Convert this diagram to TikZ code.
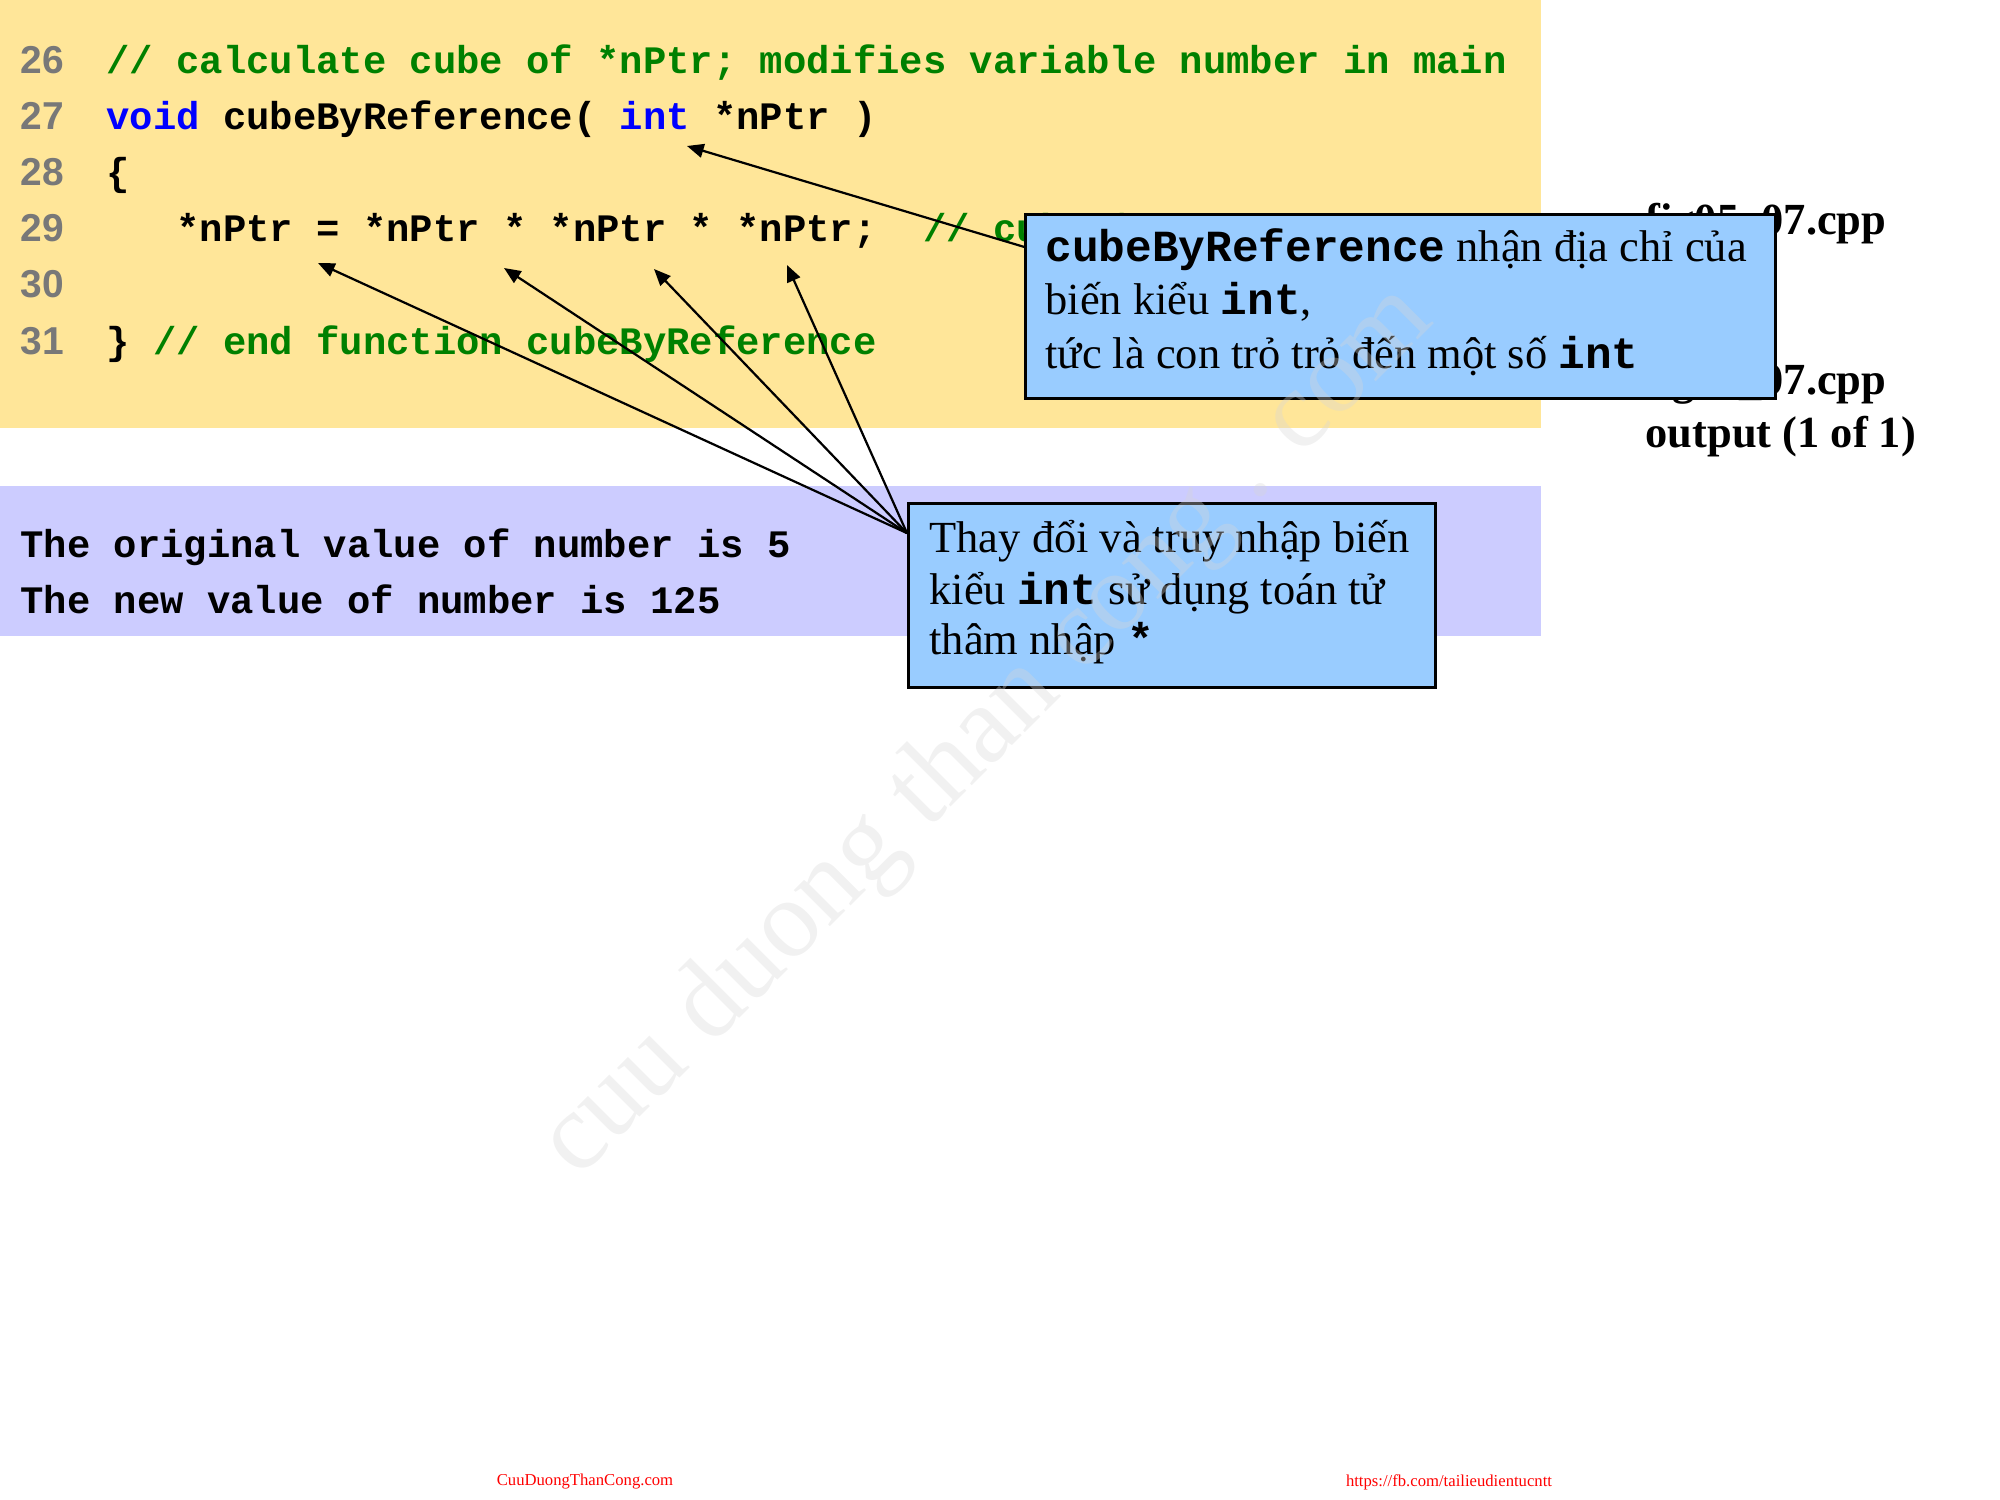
\documentclass[tikz,border=0pt]{standalone}
\usepackage{fontspec}
\setmainfont{Liberation Serif}
\setmonofont{Liberation Mono}
\newfontfamily\numfont{Liberation Sans}
\usepackage{xcolor}
\usepackage{tikz}
\usetikzlibrary{arrows.meta}
\definecolor{codebg}{RGB}{255,230,153}
\definecolor{outbg}{RGB}{204,204,255}
\definecolor{noteblue}{RGB}{153,204,255}
\definecolor{cgreen}{RGB}{0,128,0}
\definecolor{cblue}{RGB}{0,0,255}
\definecolor{numgray}{RGB}{120,120,120}
\definecolor{footred}{RGB}{255,0,0}
\definecolor{wmgray}{RGB}{215,215,215}

\begin{document}
\begin{tikzpicture}[x=0.36pt,y=-0.36pt,
  lnum/.style={anchor=base west,inner sep=0,text=numgray,font=\numfont\bfseries\fontsize{14}{16}\selectfont},
  code/.style={anchor=base west,inner sep=0,font=\ttfamily\bfseries\fontsize{14}{16}\selectfont},
  note/.style={draw=black,line width=1pt,fill=noteblue,inner sep=0,anchor=north west},
  ntxt/.style={anchor=base west,inner sep=0,font=\fontsize{16}{19}\selectfont},
  fname/.style={anchor=base west,inner sep=0,font=\bfseries\fontsize{16}{19}\selectfont},
  foot/.style={inner sep=0,text=footred,font=\fontsize{6}{7}\selectfont},
  ptr/.style={-{Triangle[length=6pt,width=5pt]},line width=0.8pt}]

  \useasboundingbox (0,0) rectangle (2000,1500);
  \fill[codebg] (0,0) rectangle (1541,428);
  \fill[outbg] (0,486) rectangle (1541,636);

  % code listing
  \node[lnum] at (20,74) (n26){26};
  \node[lnum] at (20,130) (n27){27};
  \node[lnum] at (20,186) (n28){28};
  \node[lnum] at (20,242) (n29){29};
  \node[lnum] at (20,298) (n30){30};
  \node[lnum] at (20,355) (n31){31};
  \node[code] at (106,74) (l26){\color{cgreen}// calculate cube of *nPtr; modifies variable number in main};
  \node[code] at (106,130) (l27){{\color{cblue}void} cubeByReference( {\color{cblue}int} *nPtr )};
  \node[code] at (106,186) (l28){\{};
  \node[code] at (106,242) (l29){\ \ \ *nPtr = *nPtr * *nPtr * *nPtr;\ \ {\color{cgreen}// cube *nPtr}};
  \node[code] at (106,355) (l31){\} {\color{cgreen}// end function cubeByReference}};

  % program output
  \node[code] at (20,557) (o1){The original value of number is 5};
  \node[code] at (20,613) (o2){The new value of number is 125};

  \node[fname] at (1645,235) (f1){fig05\_07.cpp};
  \node[fname] at (1645,288) (f1b){(2 of 2)};
  \node[fname] at (1645,395) (f2){fig05\_07.cpp};
  \node[fname] at (1645,448) (f2b){output (1 of 1)};

  \coordinate (intarg) at (687,146);
  \coordinate (p0) at (318,263);
  \coordinate (p1) at (504,268);
  \coordinate (p2) at (654,269);
  \coordinate (p3) at (787,265);

  \node[note,minimum width=270pt,minimum height=66.2pt] at (1024,213) (cb1){};
  \node[note,minimum width=189.7pt,minimum height=66.2pt] at (907,502) (cb2){};

  \draw[ptr] ([yshift=-12.2pt]cb1.north west) -- (intarg);
  \draw[ptr] ([yshift=-11.2pt]cb2.north west) -- (p0);
  \draw[ptr] ([yshift=-11.2pt]cb2.north west) -- (p1);
  \draw[ptr] ([yshift=-11.2pt]cb2.north west) -- (p2);
  \draw[ptr] ([yshift=-11.2pt]cb2.north west) -- (p3);

  \node[ntxt] at (1045,262) (t11){{\ttfamily\bfseries cubeByReference} nhận địa chỉ của};
  \node[ntxt] at (1045,315) (t12){biến kiểu {\ttfamily\bfseries int},};
  \node[ntxt] at (1045,369) (t13){tức là con trỏ trỏ đến một số {\ttfamily\bfseries int}};
  \node[ntxt] at (929,553) (t21){Thay đổi và truy nhập biến};
  \node[ntxt] at (929,604) (t22){kiểu {\ttfamily\bfseries int} sử dụng toán tử};
  \node[ntxt] at (929,655) (t23){thâm nhập {\ttfamily\bfseries *}};

  % watermark
  \node[rotate=45,text=wmgray,opacity=0.35,font=\fontsize{40}{44}\selectfont] at (988,732) (wm){cuu duong than cong . com};

  \node[foot] at (585,1482) (ft1){CuuDuongThanCong.com};
  \node[foot] at (1449,1482) (ft2){https://fb.com/tailieudientucntt};
\end{tikzpicture}
\end{document}
